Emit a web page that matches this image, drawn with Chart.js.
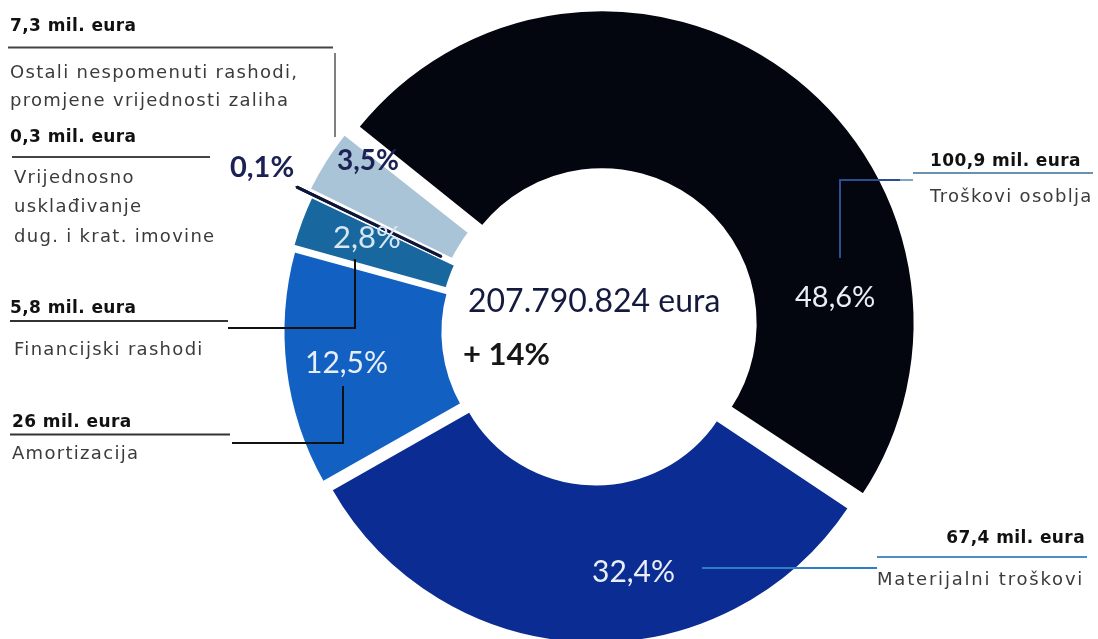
<!DOCTYPE html>
<html>
<head>
<meta charset="utf-8">
<script src="https://cdn.jsdelivr.net/npm/chart.js@4.4.1/dist/chart.umd.min.js"></script>
<style>
  html, body { margin: 0; padding: 0; background: #fff; }
  canvas { display: block; }
</style>
</head>
<body>
<canvas id="chart" width="1098" height="639"></canvas>
<script>
// slices, clockwise from the top-left
const categories = [
  'Troškovi osoblja',
  'Materijalni troškovi',
  'Amortizacija',
  'Financijski rashodi',
  'Vrijednosno usklađivanje dug. i krat. imovine',
  'Ostali nespomenuti rashodi, promjene vrijednosti zaliha'
];
const shares = [48.6, 32.4, 12.5, 2.8, 0.1, 3.5];
const shareLabels = ['48,6%', '32,4%', '12,5%', '2,8%', '0,1%', '3,5%'];
const amounts = ['100,9 mil. eura', '67,4 mil. eura', '26 mil. eura', '5,8 mil. eura', '0,3 mil. eura', '7,3 mil. eura'];
const totalText = '207.790.824 eura';
const growthText = '+ 14%';

const colors = ['#03050f', '#0b2c92', '#1261c2', '#18679e', '#0d1538', '#a9c3d7'];

// callout text + leader lines (page layout)
function drawCallouts(ctx) {
  const desc = '#3b3b3b';
  const bold = 'bold 17px "DejaVu Sans"';
  const norm = '18px "DejaVu Sans"';
  const sp = '1.3px';

  function text(s, x, y, font, color, align, spacing) {
    ctx.font = font;
    ctx.fillStyle = color;
    ctx.textAlign = align || 'left';
    ctx.letterSpacing = spacing || '0px';
    ctx.fillText(s, x, y);
    ctx.letterSpacing = '0px';
  }
  function line(pts, color, w) {
    ctx.beginPath();
    ctx.moveTo(pts[0][0], pts[0][1]);
    for (let i = 1; i < pts.length; i++) ctx.lineTo(pts[i][0], pts[i][1]);
    ctx.strokeStyle = color;
    ctx.lineWidth = w;
    ctx.stroke();
  }

  ctx.save();
  ctx.textBaseline = 'alphabetic';

  // Ostali
  text(amounts[5], 10, 31, bold, '#111', 'left', '0.4px');
  line([[8, 47.5], [333, 47.5]], '#444', 2);
  line([[335, 53], [335, 137]], '#555', 1.5);
  text('Ostali nespomenuti rashodi,', 10, 78, norm, desc, 'left', sp);
  text('promjene vrijednosti zaliha', 10, 106, norm, desc, 'left', sp);

  // Vrijednosno uskladivanje
  text(amounts[4], 10, 142, bold, '#111', 'left', '0.4px');
  line([[12, 157], [210, 157]], '#444', 2);
  text('Vrijednosno', 14, 183, norm, desc, 'left', sp);
  text('usklađivanje', 14, 212, norm, desc, 'left', sp);
  text('dug. i krat. imovine', 14, 242, norm, desc, 'left', sp);

  // Financijski rashodi
  text(amounts[3], 10, 313, bold, '#111', 'left', '0.4px');
  line([[10, 321], [228, 321]], '#333', 2);
  line([[228, 328], [355, 328], [355, 259]], '#111', 2);
  text('Financijski rashodi', 14, 355, norm, desc, 'left', sp);

  // Amortizacija
  text(amounts[2], 12, 427, bold, '#111', 'left', '0.4px');
  line([[10, 434.5], [230, 434.5]], '#333', 2);
  line([[232, 443], [343, 443], [343, 386]], '#111', 2);
  text('Amortizacija', 12, 459, norm, desc, 'left', sp);

  // Troskovi osoblja
  text(amounts[0], 930, 166, bold, '#111', 'left', '0.4px');
  line([[913, 173], [1093, 173]], '#6b91b0', 2);
  line([[913, 180], [840, 180], [840, 258]], '#2a4f8f', 2);
  line([[900, 180], [913, 180]], '#7fa6c4', 2);
  text(categories[0], 930, 202, norm, desc, 'left', sp);

  // Materijalni troskovi
  text(amounts[1], 1085, 543, bold, '#111', 'right', '0.4px');
  line([[877, 557], [1087, 557]], '#4b8fc0', 2);
  line([[702, 568], [877, 568]], '#2f7fc6', 2);
  text(categories[1], 877, 585, norm, desc, 'left', '1.8px');

  ctx.restore();
}

function drawShareLabels(ctx) {
  ctx.save();
  ctx.textBaseline = 'alphabetic';
  ctx.textAlign = 'left';
  const spots = [
    {x: 795, y: 307, font: '29px Lato', color: '#e8eef6'},
    {x: 592, y: 582, font: '30px Lato', color: '#e8eef6'},
    {x: 305, y: 373, font: '30px Lato', color: '#e8eef6'},
    {x: 333, y: 248, font: '31px Lato', color: '#d6e6f2'},
    {x: 230, y: 177, font: 'bold 29px Lato', color: '#1b2152'},
    {x: 337, y: 170, font: 'bold 28px Lato', color: '#1b2152'}
  ];
  spots.forEach((s, i) => {
    ctx.font = s.font;
    ctx.fillStyle = s.color;
    ctx.fillText(shareLabels[i], s.x, s.y);
  });

  ctx.fillStyle = '#141a3e';
  ctx.font = '32px Lato';
  ctx.fillText(totalText, 468, 312);
  ctx.fillStyle = '#161616';
  ctx.font = 'bold 31px Lato';
  ctx.fillText(growthText, 463, 365);
  ctx.restore();
}

const annotations = {
  id: 'annotations',
  afterDatasetsDraw(chart) {
    // thin 0,1% slice drawn on top so it shows in the gap
    const arc = chart.getDatasetMeta(0).data[4];
    arc.draw(chart.ctx);
  },
  afterDraw(chart) {
    drawShareLabels(chart.ctx);
    drawCallouts(chart.ctx);
  }
};

new Chart(document.getElementById('chart'), {
  type: 'doughnut',
  data: {
    labels: categories,
    datasets: [{
      data: shares,
      backgroundColor: colors,
      borderColor: ['#fff', '#fff', '#fff', '#fff', '#0d1538', '#fff'],
      borderWidth: [3, 3, 3, 3, 3, 3],
      // exploded slices (Chart.js moves each arc by offset / 4)
      offset: [40, 32, 28, 24, 56, 36]
    }]
  },
  options: {
    responsive: false,
    animation: false,
    rotation: -51.5,
    radius: 304,
    cutout: '47.4%',
    layout: { padding: { left: 296, right: 202, top: 31, bottom: 8 } },
    plugins: {
      legend: { display: false },
      tooltip: { enabled: false }
    }
  },
  plugins: [annotations]
});
</script>
</body>
</html>
